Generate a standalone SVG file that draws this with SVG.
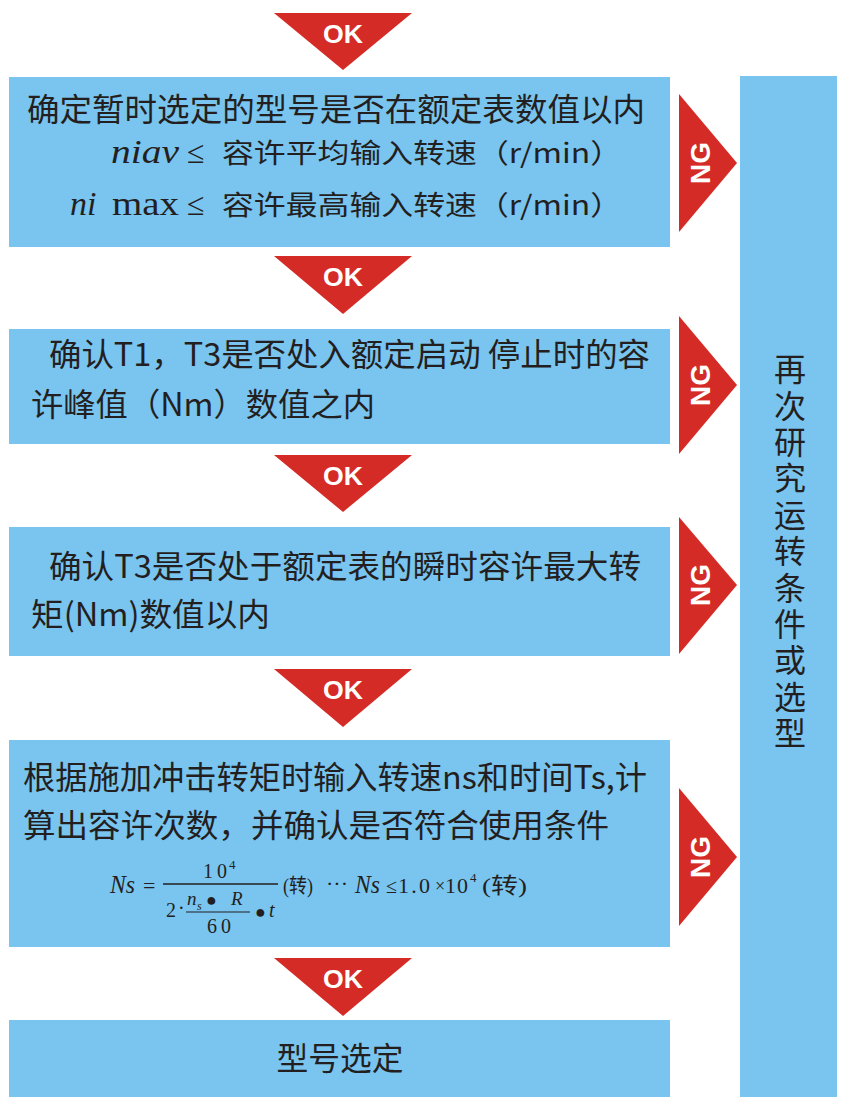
<svg xmlns="http://www.w3.org/2000/svg" width="850" height="1110" viewBox="0 0 850 1110">
<style>
.box{fill:#79c5f0}
.tri{fill:#d52b26}
.lbl{font-family:"Liberation Sans","Noto Sans",sans-serif;font-weight:bold;fill:#fff;text-anchor:middle}
.ok{font-size:26px}
.ng{font-size:28px}
.cn{font-family:"Noto Sans CJK SC","Noto Sans",sans-serif;font-size:32px;fill:#231f20}
.sm{font-size:27px}
.m{font-family:"Liberation Serif","Noto Sans CJK SC",serif;fill:#231f20}
.i{font-style:italic}
</style>
<rect width="850" height="1110" fill="#fff"/>
<g id="connectors">
  <g id="ok1"><polygon class="tri" points="274,13 412,13 343,70"/><text class="lbl ok" x="343" y="43" textLength="40" lengthAdjust="spacingAndGlyphs">OK</text></g>
  <g id="ok2"><polygon class="tri" points="274,256 412,256 343,314"/><text class="lbl ok" x="343" y="286" textLength="40" lengthAdjust="spacingAndGlyphs">OK</text></g>
  <g id="ok3"><polygon class="tri" points="274,455 412,455 343,512"/><text class="lbl ok" x="343" y="485" textLength="40" lengthAdjust="spacingAndGlyphs">OK</text></g>
  <g id="ok4"><polygon class="tri" points="274,669 412,669 343,727"/><text class="lbl ok" x="343" y="699" textLength="40" lengthAdjust="spacingAndGlyphs">OK</text></g>
  <g id="ok5"><polygon class="tri" points="274,958 412,958 343,1016"/><text class="lbl ok" x="343" y="988" textLength="40" lengthAdjust="spacingAndGlyphs">OK</text></g>
  <g id="ng1"><polygon class="tri" points="679,94 737,163 679,232"/><text class="lbl ng" transform="translate(710,163) rotate(-90)">NG</text></g>
  <g id="ng2"><polygon class="tri" points="679,316 737,385 679,454"/><text class="lbl ng" transform="translate(710,385) rotate(-90)">NG</text></g>
  <g id="ng3"><polygon class="tri" points="679,517 737,585 679,654"/><text class="lbl ng" transform="translate(710,585) rotate(-90)">NG</text></g>
  <g id="ng4"><polygon class="tri" points="679,788 737,857 679,926"/><text class="lbl ng" transform="translate(710,857) rotate(-90)">NG</text></g>
</g>
<g id="node1">
  <rect class="box" x="9" y="77" width="661" height="170"/>
  <text class="cn" x="27" y="121" textLength="618" lengthAdjust="spacingAndGlyphs">确定暂时选定的型号是否在额定表数值以内</text>
  <text class="m i" x="111" y="163" font-size="34" textLength="68" lengthAdjust="spacingAndGlyphs">niav</text>
  <text class="m" x="187" y="163" font-size="32">≤</text>
  <text class="cn sm" x="222" y="163" textLength="400" lengthAdjust="spacingAndGlyphs">容许平均输入转速（r/min）</text>
  <text class="m i" x="70" y="215" font-size="34">ni</text>
  <text class="m" x="112" y="215" font-size="34" textLength="67" lengthAdjust="spacingAndGlyphs">max</text>
  <text class="m" x="187" y="215" font-size="32">≤</text>
  <text class="cn sm" x="222" y="215" textLength="400" lengthAdjust="spacingAndGlyphs">容许最高输入转速（r/min）</text>
</g>
<g id="node2">
  <rect class="box" x="9" y="329" width="661" height="115"/>
  <text class="cn" x="49" y="366" textLength="601" lengthAdjust="spacingAndGlyphs">确认T1，T3是否处入额定启动 停止时的容</text>
  <text class="cn" x="31" y="416" textLength="344" lengthAdjust="spacingAndGlyphs">许峰值（Nm）数值之内</text>
</g>
<g id="node3">
  <rect class="box" x="9" y="527" width="661" height="129"/>
  <text class="cn" x="49" y="578" textLength="592" lengthAdjust="spacingAndGlyphs">确认T3是否处于额定表的瞬时容许最大转</text>
  <text class="cn" x="31" y="626" textLength="239" lengthAdjust="spacingAndGlyphs">矩(Nm)数值以内</text>
</g>
<g id="node4">
  <rect class="box" x="9" y="740" width="661" height="207"/>
  <text class="cn" x="23" y="789" textLength="624" lengthAdjust="spacingAndGlyphs">根据施加冲击转矩时输入转速ns和时间Ts,计</text>
  <text class="cn" x="23" y="837" textLength="586" lengthAdjust="spacingAndGlyphs">算出容许次数，并确认是否符合使用条件</text>
  <g id="formula">
    <text class="m i" x="110" y="893" font-size="25" textLength="25" lengthAdjust="spacingAndGlyphs">Ns</text>
    <text class="m" x="143" y="893" font-size="22">=</text>
    <line x1="163" y1="884" x2="278" y2="884" stroke="#231f20" stroke-width="1.5"/>
    <text class="m" x="203" y="878" font-size="20" textLength="24" lengthAdjust="spacing">10</text>
    <text class="m" x="229" y="869" font-size="13">4</text>
    <text class="m" x="166" y="917" font-size="20">2</text>
    <text class="m" x="178" y="915" font-size="20">·</text>
    <text class="m i" x="187" y="905" font-size="19">n</text>
    <text class="m i" x="197" y="910" font-size="12">s</text>
    <text class="m" x="206" y="906" font-size="18">●</text>
    <text class="m i" x="231" y="905" font-size="19">R</text>
    <line x1="186" y1="912" x2="250" y2="912" stroke="#231f20" stroke-width="1"/>
    <text class="m" x="207" y="933" font-size="20" textLength="24" lengthAdjust="spacing">60</text>
    <text class="m" x="255" y="918" font-size="18">●</text>
    <text class="m i" x="269" y="917" font-size="20">t</text>
    <text class="m" x="283" y="893" font-size="20" textLength="30" lengthAdjust="spacingAndGlyphs">(转)</text>
    <text class="m" x="326" y="891" font-size="22" textLength="22" lengthAdjust="spacing">···</text>
    <text class="m i" x="355" y="893" font-size="25" textLength="25" lengthAdjust="spacingAndGlyphs">Ns</text>
    <text class="m" x="386" y="893" font-size="20">≤</text>
    <text class="m" x="398" y="893" font-size="22" textLength="32" lengthAdjust="spacing">1.0</text>
    <text class="m" x="435" y="892" font-size="18">×</text>
    <text class="m" x="445" y="893" font-size="22" textLength="23" lengthAdjust="spacing">10</text>
    <text class="m" x="470" y="882" font-size="13">4</text>
    <text class="m" x="482" y="893" font-size="22" textLength="45" lengthAdjust="spacingAndGlyphs">(转)</text>
  </g>
</g>
<g id="node5">
  <rect class="box" x="9" y="1020" width="661" height="77"/>
  <text class="cn" x="340" y="1070" text-anchor="middle" textLength="127" lengthAdjust="spacingAndGlyphs">型号选定</text>
</g>
<g id="node6">
  <rect class="box" x="740" y="76" width="97" height="1021"/>
  <text class="cn" x="790" y="353" style="writing-mode:vertical-rl;letter-spacing:4.4px">再次研究运转条件或选型</text>
</g>
</svg>
